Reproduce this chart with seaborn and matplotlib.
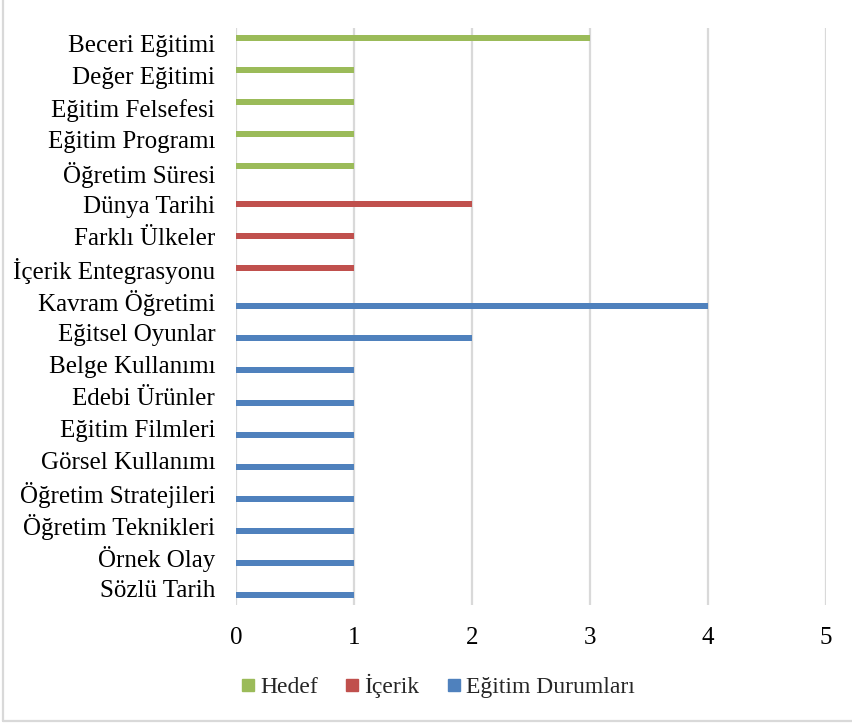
import matplotlib
matplotlib.use("Agg")
import matplotlib.pyplot as plt
import seaborn as sns
import pandas as pd
from matplotlib.lines import Line2D

categories = ["Beceri Eğitimi", "Değer Eğitimi", "Eğitim Felsefesi", "Eğitim Programı",
              "Öğretim Süresi", "Dünya Tarihi", "Farklı Ülkeler", "İçerik Entegrasyonu",
              "Kavram Öğretimi", "Eğitsel Oyunlar", "Belge Kullanımı", "Edebi Ürünler",
              "Eğitim Filmleri", "Görsel Kullanımı", "Öğretim Stratejileri",
              "Öğretim Teknikleri", "Örnek Olay", "Sözlü Tarih"]
series_names = ["Hedef", "İçerik", "Eğitim Durumları"]
series_of_cat = ["Hedef"] * 5 + ["İçerik"] * 3 + ["Eğitim Durumları"] * 10
values = [3, 1, 1, 1, 1, 2, 1, 1, 4, 2, 1, 1, 1, 1, 1, 1, 1, 1]
colors = ["#9BBB59", "#C0504D", "#4F81BD"]
xticks = [0, 1, 2, 3, 4, 5]

df = pd.DataFrame({"Kategori": categories, "Seri": series_of_cat, "Değer": values})

sns.set_theme(style="white")
plt.rcParams['font.family'] = ['Liberation Serif', 'DejaVu Serif']

FS = 18

fig = plt.figure(figsize=(8.52, 7.26), dpi=100)
ax = fig.add_axes([236/852, 1 - 605/726, (826 - 236)/852, (605 - 27.7)/726])

sns.barplot(data=df, y="Kategori", x="Değer", hue="Seri", hue_order=series_names,
            order=categories, palette=colors, orient="h", width=0.56, gap=0.0,
            dodge=True, ax=ax, legend=False, saturation=1, linewidth=0)

ax.set_xlim(0, 5)
ax.set_xticks(xticks)
ax.set_xticklabels([str(t) for t in xticks])
ax.set_xlabel("")
ax.set_ylabel("")
ax.set_ylim(len(categories) - 0.5, -0.5)
for s in ax.spines.values():
    s.set_visible(False)
ax.grid(axis="x", color="#d9d9d9", linewidth=1.6)
ax.set_axisbelow(True)
ax.tick_params(axis="y", length=0, pad=15, labelsize=FS, colors="#000000")
ax.tick_params(axis="x", length=0, pad=16, labelsize=FS, colors="#000000")

handles = [Line2D([0], [0], marker="s", linestyle="", markersize=8,
                  markerfacecolor=c, markeredgecolor=c) for c in colors]
fig.legend(handles, series_names, loc="center", bbox_to_anchor=(437/852, 1 - 686/726),
           ncol=3, frameon=False, fontsize=17, handletextpad=0.17, columnspacing=1.1,
           handlelength=0.7)

# outer chart border (left and bottom visible)
fig.add_artist(Line2D([3/852, 3/852], [1 - 721/726, 1.0], transform=fig.transFigure,
                      color="#d9d9d9", linewidth=1.6))
fig.add_artist(Line2D([3/852, 1.0], [1 - 721/726, 1 - 721/726], transform=fig.transFigure,
                      color="#d9d9d9", linewidth=1.6))

fig.savefig("out.png", dpi=100)
